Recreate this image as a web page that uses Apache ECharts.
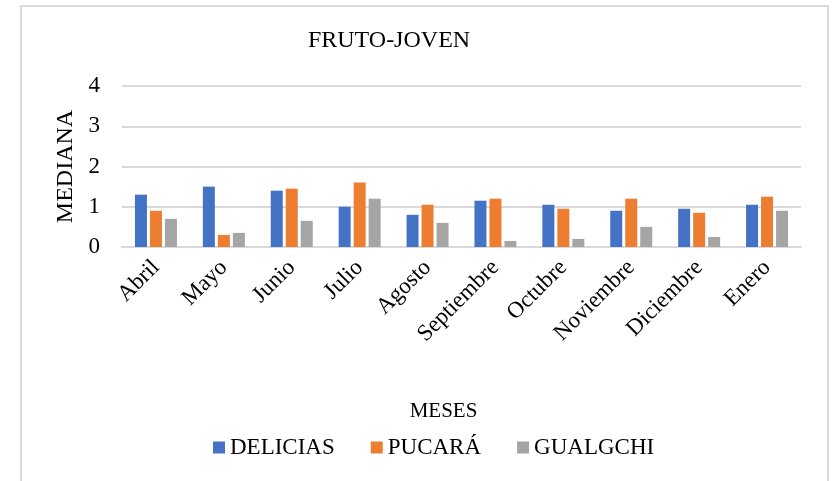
<!DOCTYPE html>
<html>
<head>
<meta charset="utf-8">
<script src="https://cdn.jsdelivr.net/npm/echarts@6/dist/echarts.min.js"></script>
<style>
  html, body { margin: 0; padding: 0; background: #fff; }
  #main { width: 838px; height: 481px; }
  #frame { position: absolute; left: 20px; top: 5px; width: 809px; height: 480px; border: 2px solid #d9d9d9; box-sizing: border-box; pointer-events: none; }
</style>
</head>
<body>
<div id="main"></div>
<div id="frame"></div>
<script>
// meses
const months = ['Abril', 'Mayo', 'Junio', 'Julio', 'Agosto', 'Septiembre', 'Octubre', 'Noviembre', 'Diciembre', 'Enero']
// medianas por localidad
const delicias = [1.3, 1.5, 1.4, 1.0, 0.8, 1.15, 1.05, 0.9, 0.95, 1.05]
const pucara = [0.9, 0.3, 1.45, 1.6, 1.05, 1.2, 0.95, 1.2, 0.85, 1.25]
const gualgchi = [0.7, 0.35, 0.65, 1.2, 0.6, 0.15, 0.2, 0.5, 0.25, 0.9]
const yTicks = [0, 1, 2, 3, 4]

const font = '"Liberation Serif", "Times New Roman", serif'
const colors = ['#4472c4', '#ed7d31', '#a5a5a5']

const chart = echarts.init(document.getElementById('main'))

const bar = (name, data, i) => ({
  name: name,
  type: 'bar',
  data: data,
  barWidth: 12,
  barGap: '25%',
  itemStyle: { color: colors[i] }
})

chart.setOption({
  animation: false,
  textStyle: { fontFamily: font, color: '#000' },
  title: {
    text: 'FRUTO-JOVEN',
    left: 384,
    top: 24,
    textAlign: 'center',
    textStyle: { fontFamily: font, fontWeight: 'normal', fontSize: 24, color: '#000' }
  },
  legend: {
    top: 431,
    left: 208,
    itemWidth: 12,
    itemHeight: 12,
    itemGap: 36,
    icon: 'rect',
    textStyle: { fontFamily: font, fontSize: 23, color: '#000' },
    data: ['DELICIAS', 'PUCARÁ', 'GUALGCHI']
  },
  grid: { left: 122, right: 37, top: 86, height: 161 },
  xAxis: {
    type: 'category',
    data: months,
    name: 'MESES',
    nameLocation: 'middle',
    nameGap: 154,
    nameTextStyle: { fontFamily: font, fontSize: 21, color: '#000', padding: [0, 36, 0, 0] },
    axisLine: { lineStyle: { color: '#d9d9d9', width: 2 } },
    axisTick: { show: false },
    axisLabel: { rotate: 45, fontFamily: font, fontSize: 23, color: '#000', margin: 17 }
  },
  yAxis: {
    type: 'value',
    min: yTicks[0],
    max: yTicks[yTicks.length - 1],
    interval: 1,
    name: 'MEDIANA',
    nameLocation: 'middle',
    nameGap: 44,
    nameTextStyle: { fontFamily: font, fontSize: 24, color: '#000' },
    axisLine: { show: false },
    axisTick: { show: false },
    axisLabel: { fontFamily: font, fontSize: 23, color: '#000', margin: 22 },
    splitLine: { lineStyle: { color: '#d9d9d9', width: 2 } }
  },
  series: [
    bar('DELICIAS', delicias, 0),
    bar('PUCARÁ', pucara, 1),
    bar('GUALGCHI', gualgchi, 2)
  ]
})
</script>
</body>
</html>
